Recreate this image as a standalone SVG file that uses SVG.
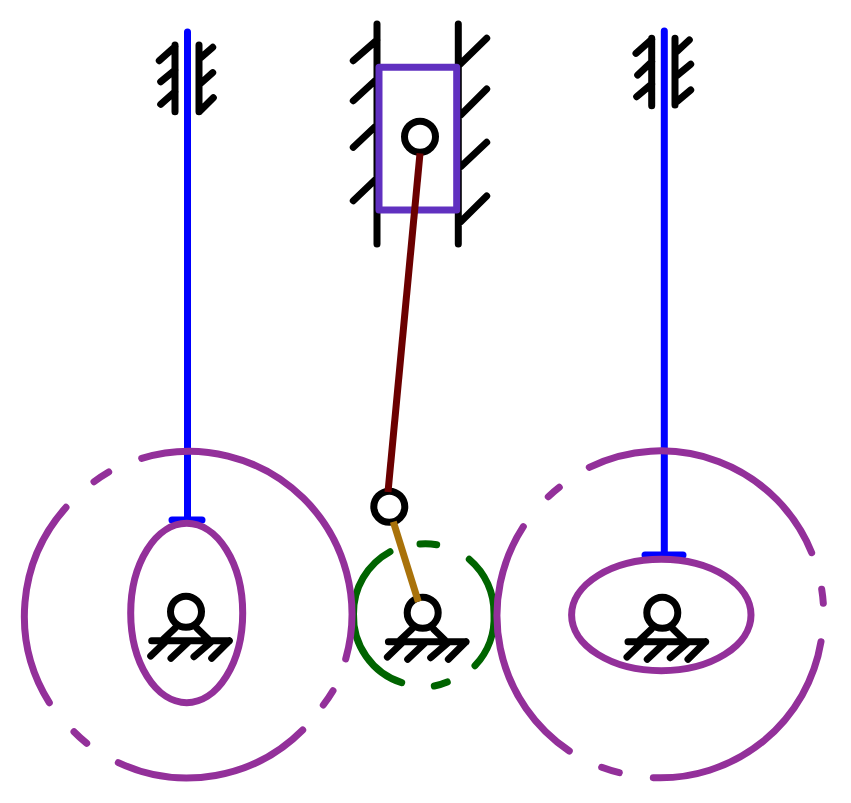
<svg xmlns="http://www.w3.org/2000/svg" width="851" height="803" viewBox="0 0 851 803">
<style>
.k{fill:none;stroke:#000;stroke-width:7;stroke-linecap:round;stroke-linejoin:round}
.p{fill:none;stroke:#93309a;stroke-width:7;stroke-linecap:round}
.g{fill:none;stroke:#006400;stroke-width:7;stroke-linecap:round}
.b{fill:none;stroke:#0000ff;stroke-width:7;stroke-linecap:round}
</style>
<defs>
<g id="joint"><circle class="k" r="15.5"/></g>
<g id="pivot">
<circle class="k" r="15.5"/>
<path class="k" d="M-11 16.500L-22.700 27.600M11 16.500L22.300 27.600M-34.300 29H43.300M-35.300 44.300L-20 29.500M-15 46.600L3 29.500M8 45L26 29.500M25.700 46.600L43.300 29"/>
</g>
</defs>
<rect width="851" height="803" fill="#fff"/>
<g id="guides">
<path class="k" d="M175 45V111.700M159.300 60.700L175 46.700M160.700 81.700L175 70M160.700 104.300L175 91.700M199 45V111.700M200 58.300L212.700 47.300M200 84L212.700 72.700M200 111L213.300 97.700"/>
<path class="k" d="M377 24V244M353.300 60.700L377 40M353.300 100.700L375 80.700M353.300 147.300L375 126.700M353.300 200.700L375 180M458.300 24V244M459.300 65L486.700 38.300M460.700 115L486.700 89M460.700 166.700L486.700 142.300M460.700 221.700L486.700 196"/>
<path class="k" d="M651.700 38.300V105.700M636 53.300L651.700 39.300M637.700 75L651.700 61.700M636.700 96.700L651.700 84M675 38.300V105M676.700 51.700L689.300 40M676.700 75.700L690.700 64.300M676.700 101.700L690.700 90"/>
</g>
<g id="connectors">
<path class="b" d="M187.500 32V520M172 520H202"/>
<path class="b" d="M664.300 31V555M645 555H683"/>
</g>
<g id="slider"><rect x="379" y="67.300" width="77.700" height="142.700" fill="none" stroke="#6030c0" stroke-width="7" stroke-linejoin="round"/></g>
<g id="centre-gear">
<path class="g" d="M390 551.700A70 70 0 0 0 353.500 614A70 70 0 0 0 401.700 682.700M420 544A70 70 0 0 1 436.700 544.700M469.300 559.300A70 70 0 0 1 494 614A70 70 0 0 1 475 665.700M434.300 686A70 70 0 0 0 447.300 682"/>
<use href="#pivot" x="422.700" y="612.700"/>
</g>
<g id="left-gear">
<path class="p" d="M141.700 458.300A163 163 0 0 1 345.700 659M333 690.700A163 163 0 0 1 323.300 705M302.700 730A163 163 0 0 1 118.300 762.700M86.700 743.300A163 163 0 0 1 74 731.700M49.300 702.700A163 163 0 0 1 66 507.300M94 481.700A163 163 0 0 1 108.700 472"/>
<ellipse class="p" cx="186.700" cy="613" rx="56" ry="89.700"/>
<use href="#pivot" x="186" y="611.700"/>
</g>
<g id="right-gear">
<path class="p" d="M589.300 467.300A163 163 0 0 1 811.700 552.700M821.700 589.300A163 163 0 0 1 823.300 603.300M821 641.700A163 163 0 0 1 653.300 777.700M619.300 772.700A163 163 0 0 1 601.700 767.300M569.300 751A163 163 0 0 1 523.300 526.700M548.300 496.700A163 163 0 0 1 559.300 487.300"/>
<ellipse class="p" cx="661.300" cy="615" rx="89.700" ry="55.700"/>
<use href="#pivot" x="662.300" y="612.700"/>
</g>
<g id="crank-joint"><use href="#joint" x="389.300" y="506.700"/></g>
<g id="slider-joint"><use href="#joint" x="420" y="136.700"/></g>
<g id="links">
<line x1="393.300" y1="521.700" x2="418.300" y2="601.700" stroke="#a9720a" stroke-width="7"/>
<line x1="420" y1="153.300" x2="388" y2="492" stroke="#6b0000" stroke-width="7"/>
</g>
</svg>
